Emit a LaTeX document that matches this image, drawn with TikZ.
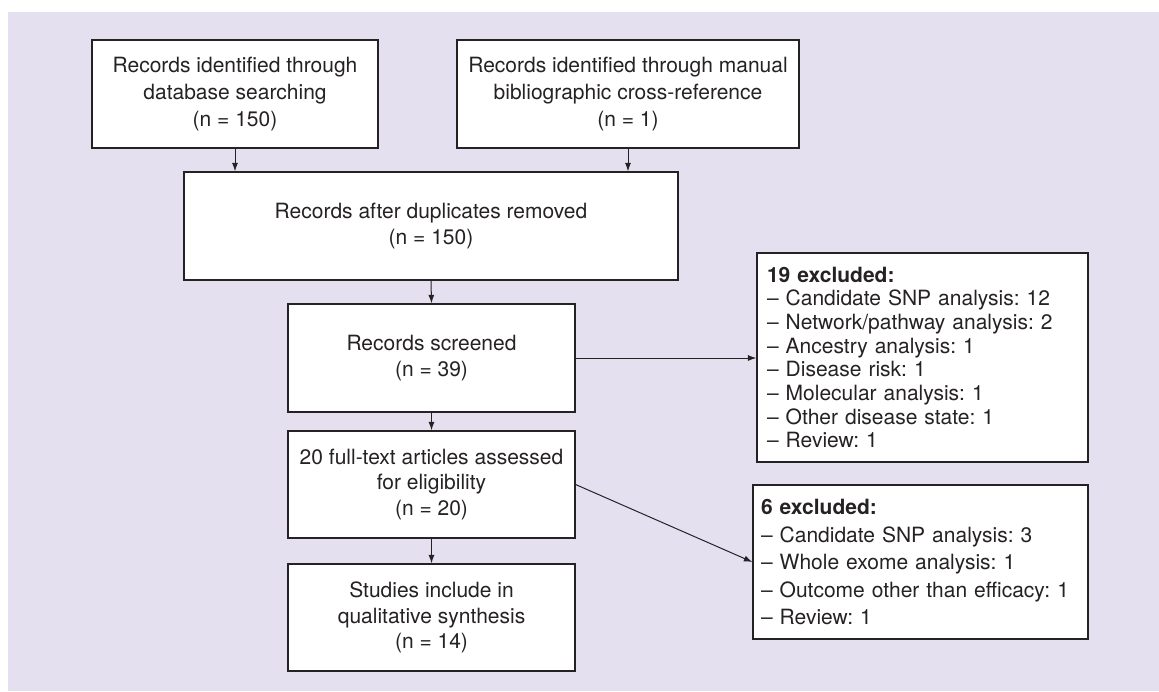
\documentclass[tikz,border=0pt]{standalone}
\usepackage{fontspec}
\setmainfont{TeX Gyre Heros}
\usetikzlibrary{arrows.meta}
\definecolor{bg}{RGB}{229,224,239}
\definecolor{ink}{RGB}{38,34,36}
\frenchspacing
\begin{document}
\begin{tikzpicture}[x=1pt,y=-1pt,
  box/.style={draw=ink, line width=1.2pt, fill=white, inner sep=0pt, align=center, text=ink,
              font=\fontsize{21}{26}\selectfont},
  listbox/.style={draw=ink, line width=1.2pt, fill=white, inner ysep=0pt, align=left, text=ink},
  arr/.style={draw=ink, line width=1pt, -{Latex[length=8.5pt,width=6pt]}}]
\fill[white] (0,0) rectangle (1159,691);
\useasboundingbox (0,0) rectangle (1159,691);
\fill[bg] (8,12) rectangle (1159,691);

\node[box, minimum width=286pt, minimum height=108pt, font=\fontsize{21}{26.7}\selectfont] (A) at (235,94)
  {Records identified through\\database searching\\(n = 150)};
\node[box, minimum width=342pt, minimum height=108pt, font=\fontsize{21}{26.7}\selectfont] (B) at (628,94)
  {Records identified through manual\\bibliographic cross-reference\\(n = 1)};
\node[box, minimum width=494pt, minimum height=108pt] (C) at (431,226)
  {Records after duplicates removed\\(n = 150)};
\node[box, minimum width=287pt, minimum height=108pt] (D) at (431.5,358)
  {Records screened\\(n = 39)};
\node[box, minimum width=287pt, minimum height=107pt, font=\fontsize{21}{25.5}\selectfont] (E) at (431.5,484.5)
  {20 full-text articles assessed\\for eligibility\\(n = 20)};
\node[box, minimum width=287pt, minimum height=107pt, font=\fontsize{21}{25.5}\selectfont] (F) at (431.5,617.5)
  {Studies include in\\qualitative synthesis\\(n = 14)};

\node[listbox, inner xsep=10pt, text width=311pt, minimum height=209pt, font=\fontsize{21}{23.7}\selectfont] (G) at (922.5,357.5)
  {\textbf{19 excluded:}\\
   – Candidate SNP analysis: 12\\
   – Network/pathway analysis: 2\\
   – Ancestry analysis: 1\\
   – Disease risk: 1\\
   – Molecular analysis: 1\\
   – Other disease state: 1\\
   – Review: 1};
\node[listbox, inner xsep=8pt, text width=319pt, minimum height=154pt, font=\fontsize{21}{27.5}\selectfont] (H) at (920.5,562)
  {\textbf{6 excluded:}\\
   – Candidate SNP analysis: 3\\
   – Whole exome analysis: 1\\
   – Outcome other than efficacy: 1\\
   – Review: 1};

\draw[arr] (A.south) -- (A.south |- C.north);
\draw[arr] (B.south) -- (B.south |- C.north);
\draw[arr] (C.south) -- (D.north);
\draw[arr] (D.south) -- (E.north);
\draw[arr] (E.south) -- (F.north);
\draw[arr] (D.east) -- (D.east -| G.west);
\draw[arr] (E.east) -- (H.west);
\end{tikzpicture}
\end{document}
